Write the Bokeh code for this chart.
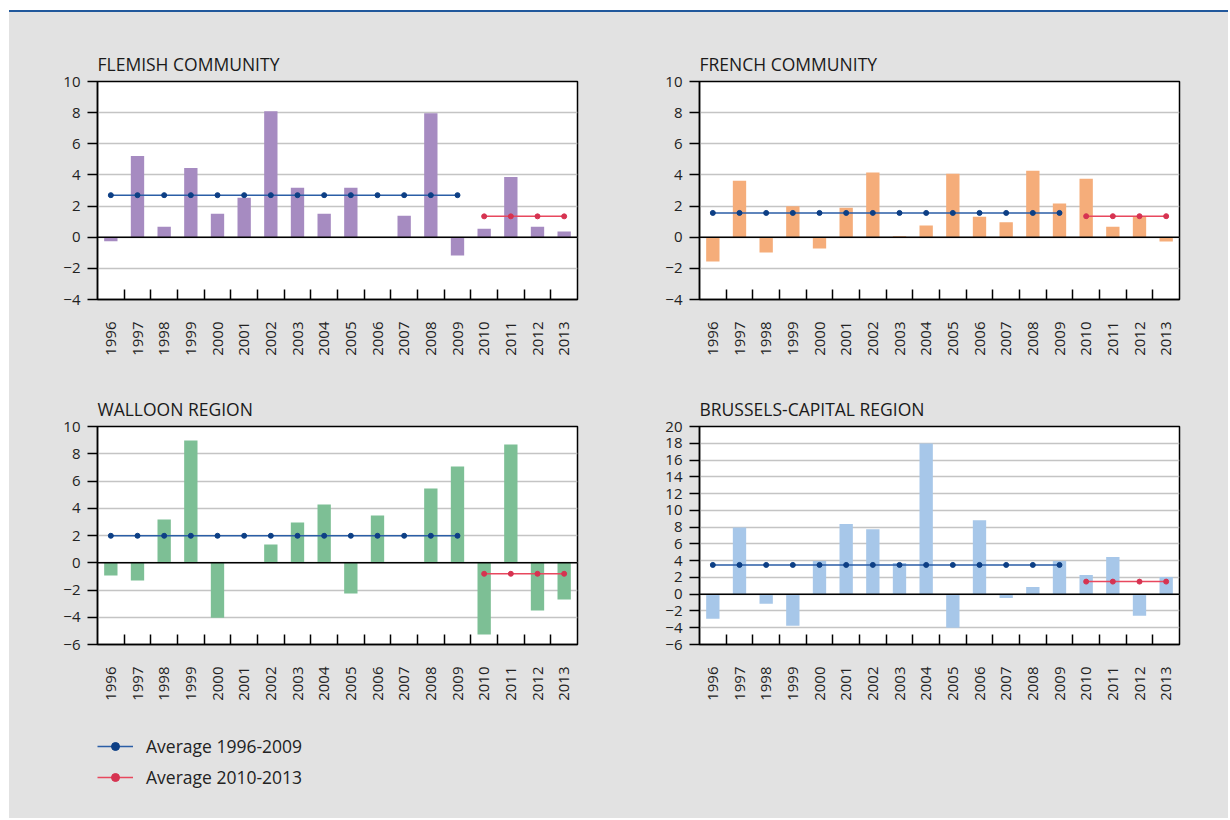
import math
from bokeh.plotting import figure
from bokeh.models import FixedTicker, Span, Legend, LegendItem, Div, Range1d
from bokeh.layouts import row, column
from bokeh.embed import file_html
from bokeh.resources import INLINE

# ---- data ----
years = list(range(1996, 2014))
year_labels = [str(y) for y in years]
early_years = years[:14]   # 1996-2009
late_years = years[14:]    # 2010-2013

flemish = [-0.26, 5.21, 0.68, 4.45, 1.51, 2.53, 8.09, 3.17, 1.50, 3.17, -0.05, 1.38, 7.96, -1.17,
           0.55, 3.87, 0.68, 0.36]
french = [-1.56, 3.63, -0.98, 1.99, -0.73, 1.90, 4.15, 0.06, 0.75, 4.08, 1.32, 0.96, 4.27, 2.16,
          3.76, 0.68, 1.37, -0.28]
walloon = [-0.93, -1.30, 3.18, 8.97, -4.03, 0.0, 1.34, 2.96, 4.28, -2.25, 3.47, 0.0, 5.45, 7.07,
           -5.26, 8.68, -3.50, -2.69]
brussels = [-2.93, 7.96, -1.15, -3.76, 3.96, 8.36, 7.76, 3.72, 17.98, -4.00, 8.83, -0.44, 0.87, 3.96,
            2.30, 4.44, -2.57, 2.06]

panel_titles = ["FLEMISH COMMUNITY", "FRENCH COMMUNITY", "WALLOON REGION", "BRUSSELS-CAPITAL REGION"]
avg_1996_2009 = [2.70, 1.56, 1.98, 3.49]
avg_2010_2013 = [1.34, 1.35, -0.81, 1.50]
legend_labels = ["Average 1996-2009", "Average 2010-2013"]

# ---- styles ----
BG = "#e2e2e2"
FONT = "Open Sans"
BAR_COLORS = ["#a68bc1", "#f5ad7a", "#7dbf95", "#a7c7e9"]
BLUE_LINE, BLUE_DOT = "#2b5ea6", "#0d3f85"
RED_LINE, RED_DOT = "#e8485e", "#d63351"


def minus(v):
    return ("\u2212" + str(abs(v))) if v < 0 else str(v)


def make_panel(title, values, color, a1, a2, ymin, ymax, ystep,
               width, height, bl, br, bt, bb):
    p = figure(width=width, height=height, output_backend="svg", toolbar_location=None,
               x_range=Range1d(1995.5, 2013.5), y_range=Range1d(ymin, ymax),
               min_border_left=bl, min_border_right=br, min_border_top=bt, min_border_bottom=bb,
               background_fill_color="white", border_fill_color=BG)
    p.title.text = title
    p.title.text_font = FONT
    p.title.text_font_size = "17.5px"
    p.title.text_font_style = "normal"
    p.title.text_color = "#1a1a1a"
    p.title.standoff = 12

    p.vbar(x=years, top=values, bottom=0, width=0.5, fill_color=color, line_color=None)
    p.add_layout(Span(location=0, dimension="width", line_color="black", line_width=1.5))

    p.line(early_years, [a1] * len(early_years), line_color=BLUE_LINE, line_width=1.5)
    p.scatter(early_years, [a1] * len(early_years), size=5, fill_color=BLUE_DOT, line_color=BLUE_DOT)
    p.line(late_years, [a2] * len(late_years), line_color=RED_LINE, line_width=1.5)
    p.scatter(late_years, [a2] * len(late_years), size=5, fill_color=RED_DOT, line_color=RED_DOT)

    yticks = list(range(ymin, ymax + 1, ystep))
    xa = p.xaxis[0]
    xa.ticker = FixedTicker(ticks=years, minor_ticks=[y + 0.5 for y in years[:-1]])
    xa.major_label_overrides = {y: s for y, s in zip(years, year_labels)}
    xa.major_tick_line_color = None
    xa.minor_tick_in = 10
    xa.minor_tick_out = 0
    xa.minor_tick_line_color = "black"
    xa.minor_tick_line_width = 1.5
    xa.axis_line_color = "black"
    xa.axis_line_width = 1.5
    xa.major_label_orientation = math.pi / 2
    xa.major_label_standoff = 16
    xa.major_label_text_font = FONT
    xa.major_label_text_font_size = "15px"
    xa.major_label_text_color = "#222222"

    ya = p.yaxis[0]
    ya.ticker = FixedTicker(ticks=yticks)
    ya.major_label_overrides = {t: minus(t) for t in yticks}
    ya.major_tick_out = 10
    ya.major_tick_in = 0
    ya.major_tick_line_color = "black"
    ya.major_tick_line_width = 1.5
    ya.minor_tick_line_color = None
    ya.axis_line_color = "black"
    ya.axis_line_width = 1.5
    ya.major_label_standoff = 7
    ya.major_label_text_font = FONT
    ya.major_label_text_font_size = "15px"
    ya.major_label_text_color = "#222222"

    p.xgrid.visible = False
    p.ygrid.ticker = FixedTicker(ticks=yticks)
    p.ygrid.grid_line_color = "#c4c4c4"
    p.ygrid.grid_line_width = 1.5

    p.outline_line_color = "black"
    p.outline_line_width = 1.5
    return p


p1 = make_panel(panel_titles[0], flemish, BAR_COLORS[0], avg_1996_2009[0], avg_2010_2013[0],
                -4, 10, 2, 610, 368, 88, 42, 69, 81)
p2 = make_panel(panel_titles[1], french, BAR_COLORS[1], avg_1996_2009[1], avg_2010_2013[1],
                -4, 10, 2, 609, 368, 80, 49, 69, 81)
p3 = make_panel(panel_titles[2], walloon, BAR_COLORS[2], avg_1996_2009[2], avg_2010_2013[2],
                -6, 10, 2, 610, 340, 88, 42, 46, 76)
p4 = make_panel(panel_titles[3], brussels, BAR_COLORS[3], avg_1996_2009[3], avg_2010_2013[3],
                -6, 20, 2, 609, 340, 80, 49, 46, 76)

# legend strip below the panels (its sample renderers lie outside the strip's visible range,
# so only their legend glyphs show)
pl = figure(width=1219, height=98, output_backend="svg", toolbar_location=None,
            min_border=0, min_border_left=0, min_border_right=0, min_border_top=0, min_border_bottom=0,
            background_fill_color=BG, border_fill_color=BG, outline_line_color=None,
            x_range=Range1d(0, 1), y_range=Range1d(0, 1))
pl.axis.visible = False
pl.grid.visible = False
l1 = pl.line(early_years, [avg_1996_2009[2]] * len(early_years), line_color=BLUE_LINE, line_width=1.5)
d1 = pl.scatter(early_years, [avg_1996_2009[2]] * len(early_years), size=7,
                fill_color=BLUE_DOT, line_color=BLUE_DOT)
l2 = pl.line(late_years, [avg_2010_2013[2]] * len(late_years), line_color=RED_LINE, line_width=1.5)
d2 = pl.scatter(late_years, [avg_2010_2013[2]] * len(late_years), size=7,
                fill_color=RED_DOT, line_color=RED_DOT)
legend = Legend(items=[LegendItem(label=legend_labels[0], renderers=[l1, d1]),
                       LegendItem(label=legend_labels[1], renderers=[l2, d2])],
                location=(88, 29), orientation="vertical",
                glyph_width=36, glyph_height=20, label_height=20, label_standoff=13,
                spacing=7, padding=0, margin=0,
                border_line_color=None, background_fill_alpha=0,
                label_text_font=FONT, label_text_font_size="17.5px", label_text_color="#222222")
pl.add_layout(legend)

top_gap = Div(width=1219, height=10, margin=0, styles={"background-color": "white"})
top_rule = Div(width=1219, height=2, margin=0, styles={"background-color": "#21589c"})
left_gap = Div(width=9, height=818, margin=0, styles={"background-color": "white"})

body = column(top_gap, top_rule, row(p1, p2), row(p3, p4), pl,
              styles={"background-color": BG})
layout = row(left_gap, body)

open("out.html", "w").write(file_html(layout, INLINE))
